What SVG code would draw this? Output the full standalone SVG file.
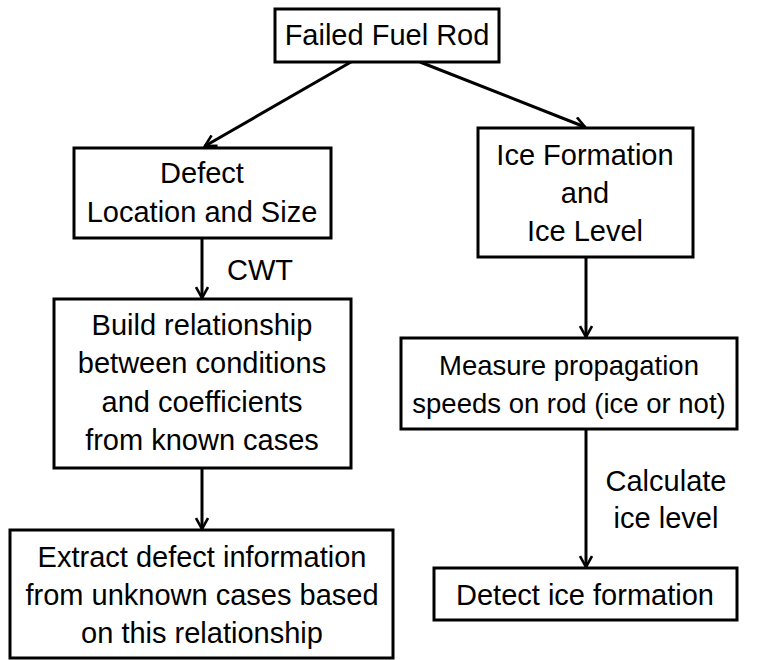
<svg xmlns="http://www.w3.org/2000/svg" width="761" height="660" viewBox="0 0 761 660">
<style>
.box{fill:#fff;stroke:#000;stroke-width:3}
.t{font-family:"Liberation Sans",Arial,sans-serif;font-size:29px;fill:#000;text-anchor:middle}
.s{font-size:27.5px}
.l{font-family:"Liberation Sans",Arial,sans-serif;font-size:29px;fill:#000}
.c{fill:none;stroke:#000;stroke-width:3}
</style>
<defs>
<marker id="arr" viewBox="0 0 14 14" refX="12" refY="7" markerWidth="14" markerHeight="14" markerUnits="userSpaceOnUse" orient="auto">
<path d="M1,1 L12,7 L1,13" fill="none" stroke="#000" stroke-width="2.6"/>
</marker>
</defs>
<rect width="761" height="660" fill="#fff"/>
<g id="connectors">
<line class="c" x1="351" y1="62" x2="205" y2="146" marker-end="url(#arr)"/>
<line class="c" x1="420" y1="62" x2="585" y2="127" marker-end="url(#arr)"/>
<line class="c" x1="202" y1="238" x2="202" y2="298" marker-end="url(#arr)"/>
<line class="c" x1="202" y1="468" x2="202" y2="529" marker-end="url(#arr)"/>
<line class="c" x1="586" y1="257" x2="586" y2="337" marker-end="url(#arr)"/>
<line class="c" x1="586" y1="429" x2="586" y2="567" marker-end="url(#arr)"/>
<text class="l" x="227" y="280">CWT</text>
<text class="t" x="666" y="491">Calculate</text>
<text class="t" x="666" y="528">ice level</text>
</g>
<g id="failed">
<rect class="box" x="275" y="9" width="224" height="53"/>
<text class="t" x="387" y="45">Failed Fuel Rod</text>
</g>
<g id="defect">
<rect class="box" x="74" y="148" width="257" height="90"/>
<text class="t" x="202" y="183">Defect</text>
<text class="t" x="202" y="222">Location and Size</text>
</g>
<g id="ice">
<rect class="box" x="478" y="128" width="215" height="129"/>
<text class="t" x="585" y="165">Ice Formation</text>
<text class="t" x="585" y="203">and</text>
<text class="t" x="585" y="241">Ice Level</text>
</g>
<g id="build">
<rect class="box" x="54" y="299" width="297" height="169"/>
<text class="t" x="202" y="335">Build relationship</text>
<text class="t" x="202" y="373">between conditions</text>
<text class="t" x="202" y="412">and coefficients</text>
<text class="t" x="202" y="450">from known cases</text>
</g>
<g id="measure">
<rect class="box" x="401" y="338" width="336" height="91"/>
<text class="t s" x="569" y="375">Measure propagation</text>
<text class="t s" x="569" y="413">speeds on rod (ice or not)</text>
</g>
<g id="extract">
<rect class="box" x="10" y="530" width="383" height="128"/>
<text class="t" x="202" y="567">Extract defect information</text>
<text class="t" x="202" y="605">from unknown cases based</text>
<text class="t" x="202" y="643">on this relationship</text>
</g>
<g id="detect">
<rect class="box" x="434" y="568" width="303" height="52"/>
<text class="t" x="585" y="605">Detect ice formation</text>
</g>
</svg>
